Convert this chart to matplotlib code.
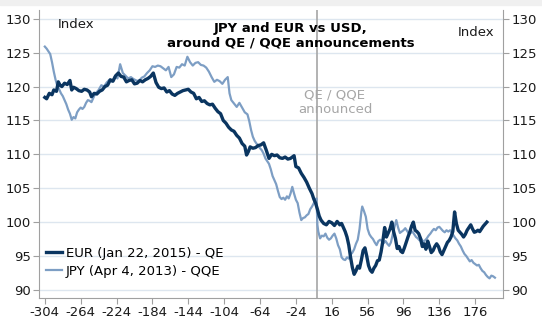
import matplotlib.pyplot as plt
from matplotlib.patches import Rectangle

plt.rcParams['axes.unicode_minus'] = False
plt.rcParams['font.family'] = 'DejaVu Sans'

# days relative to announcement, index values
eur_days = [-304, -302, -299, -296, -294, -291, -289, -287, -285, -282, -279, -276, -274, -272, -269, -266,
            -263, -260, -257, -254, -252, -249, -246, -243, -240, -237, -234, -231, -228, -225, -222, -219,
            -216, -213, -210, -207, -204, -201, -198, -195, -192, -189, -186, -183, -180, -177, -174, -171,
            -168, -165, -162, -159, -156, -153, -150, -147, -144, -141, -138, -135, -132, -129, -126, -123,
            -120, -117, -114, -111, -108, -105, -102, -99, -96, -93, -90, -87, -84, -81, -79, -77, -75, -72,
            -69, -66, -63, -60, -57, -54, -51, -48, -45, -42, -39, -36, -33, -30, -28, -26, -24, -21, -18,
            -15, -12, -9, -6, -4, -2, 0, 2, 4, 7, 10, 13, 16, 19, 22, 25, 27, 29, 31, 33, 35, 37, 39, 41, 43,
            45, 47, 49, 51, 53, 55, 57, 59, 61, 63, 65, 67, 69, 71, 73, 75, 77, 79, 81, 83, 85, 87, 89, 91,
            93, 95, 97, 99, 101, 103, 105, 107, 109, 111, 113, 115, 117, 119, 121, 123, 125, 127, 129, 131,
            133, 135, 137, 139, 141, 143, 145, 147, 149, 151, 153, 155, 157, 159, 161, 163, 165, 167, 169,
            171, 173, 175, 177, 179, 181, 183, 185, 187, 189]
eur_vals = [118.4, 118.2, 119.0, 118.8, 119.5, 119.3, 120.7, 120.2, 120.0, 120.5, 120.3, 120.9, 119.5, 119.9,
            119.7, 119.4, 119.3, 119.6, 119.5, 119.2, 118.5, 119.0, 118.9, 119.3, 119.5, 120.0, 120.2, 121.0,
            120.8, 121.6, 122.0, 121.5, 121.4, 120.7, 120.9, 121.0, 120.4, 120.5, 120.9, 120.7, 121.0, 121.2,
            121.5, 122.0, 120.6, 119.9, 119.7, 119.8, 119.2, 119.4, 118.9, 118.7, 119.0, 119.2, 119.4, 119.5,
            119.6, 119.2, 119.0, 118.2, 118.4, 117.8, 117.9, 117.5, 117.3, 117.4, 116.8, 116.3, 116.0, 115.0,
            114.6, 114.0, 113.6, 113.4, 112.8, 112.4, 111.6, 111.2, 109.9, 110.4, 111.1, 110.9, 111.0, 111.3,
            111.4, 111.7, 110.6, 109.4, 110.0, 109.8, 109.9, 109.5, 109.4, 109.6, 109.3, 109.4, 109.6, 109.8,
            108.2, 108.0, 107.2, 106.6, 105.9, 105.0, 104.2, 103.4, 102.8, 101.9, 100.9, 100.3, 99.8, 99.6,
            100.1, 99.9, 99.5, 100.1, 99.6, 99.8, 99.2, 98.6, 97.8, 96.6, 94.8, 93.3, 92.3, 92.8, 93.5, 93.2,
            94.4, 95.8, 96.2, 95.0, 93.6, 92.9, 92.6, 93.2, 93.6, 94.3, 94.4, 95.6, 97.2, 99.2, 97.8, 98.4,
            99.0, 100.0, 98.6, 97.6, 96.1, 96.4, 95.7, 95.5, 96.2, 97.0, 97.8, 98.5, 99.4, 100.0, 98.8, 98.6,
            98.3, 97.6, 96.4, 96.8, 96.0, 97.2, 96.4, 95.5, 95.8, 96.4, 96.8, 96.4, 95.6, 95.2, 95.8, 96.4, 97.0,
            97.3, 97.8, 98.6, 101.5, 99.8, 98.8, 98.5, 98.2, 97.8, 98.2, 98.8, 99.2, 99.6, 99.0, 98.5, 98.6,
            98.8, 98.6, 99.0, 99.4, 99.7, 100.0]

jpy_days = [-304, -302, -300, -298, -296, -294, -292, -290, -288, -286, -284, -282, -280, -278, -276, -274,
            -272, -270, -268, -266, -264, -262, -260, -258, -256, -254, -252, -250, -248, -246, -244, -241,
            -238, -235, -232, -229, -226, -223, -220, -217, -214, -211, -208, -205, -202, -199, -196, -193,
            -190, -187, -184, -181, -178, -175, -172, -169, -166, -163, -160, -157, -154, -151, -148, -145,
            -142, -139, -136, -133, -130, -127, -124, -121, -118, -115, -112, -109, -106, -103, -100, -98,
            -96, -93, -90, -87, -84, -81, -78, -76, -74, -72, -70, -68, -66, -64, -62, -60, -58, -56, -54,
            -52, -50, -48, -46, -44, -42, -40, -38, -36, -34, -32, -30, -28, -26, -24, -22, -20, -18, -16,
            -14, -12, -10, -8, -6, -4, -2, -1, 0, 1, 3, 5, 7, 9, 11, 13, 15, 17, 19, 21, 23, 25, 27, 29, 31,
            33, 35, 37, 39, 41, 43, 45, 47, 49, 50, 52, 54, 56, 58, 60, 62, 64, 66, 68, 70, 72, 74, 76, 78,
            80, 82, 84, 86, 88, 90, 92, 94, 96, 98, 100, 102, 104, 106, 108, 110, 112, 114, 116, 118, 120,
            122, 124, 126, 128, 130, 132, 134, 136, 138, 140, 142, 144, 146, 148, 150, 152, 154, 156, 158,
            160, 162, 164, 166, 168, 170, 172, 174, 176, 178, 180, 182, 184, 186, 188, 190, 192, 194, 196, 198]
jpy_vals = [125.9, 125.6, 125.2, 124.8, 123.6, 122.2, 121.0, 120.1, 119.6, 119.0, 118.6, 118.0, 117.4, 116.6,
            116.0, 115.1, 115.5, 115.3, 116.2, 116.6, 116.9, 116.7, 117.0, 117.6, 118.0, 117.9, 117.7, 118.3,
            118.9, 119.2, 119.5, 120.2, 120.0, 120.6, 121.0, 120.7, 121.5, 121.2, 123.3, 122.0, 121.6, 121.2,
            121.4, 121.1, 120.9, 120.8, 121.3, 121.5, 122.0, 122.4, 123.0, 122.9, 123.1, 123.0, 122.7, 122.4,
            122.9, 121.4, 121.8, 122.9, 122.8, 123.3, 123.1, 124.4, 123.6, 123.1, 123.5, 123.6, 123.2, 123.1,
            122.8, 122.2, 121.4, 120.7, 121.0, 120.8, 120.4, 121.0, 121.4, 119.0, 118.0, 117.5, 117.0, 117.6,
            116.9, 116.2, 115.9, 114.9, 113.6, 112.6, 112.0, 111.6, 111.3, 110.9, 110.6, 110.1, 109.4, 109.0,
            108.6, 107.8, 106.8, 106.2, 105.6, 104.6, 103.7, 103.4, 103.6, 103.3, 103.8, 103.5, 104.2, 105.2,
            104.2, 103.3, 102.8, 101.4, 100.3, 100.6, 100.7, 101.0, 101.2, 101.9, 102.3, 102.8, 103.3, 103.5,
            99.6, 98.6, 97.6, 98.0, 97.9, 98.3, 97.7, 97.4, 97.6, 98.0, 98.3, 97.6, 96.6, 96.0, 94.8, 94.5,
            94.4, 94.8, 94.6, 95.2, 95.5, 96.0, 96.8, 97.4, 99.0, 101.5, 102.3, 101.6, 100.8, 99.0,
            98.2, 97.8, 97.5, 97.0, 96.6, 97.2, 97.4, 97.2, 96.9, 97.2, 96.8, 96.5, 97.0, 98.2, 99.3,
            100.3, 99.2, 98.4, 98.6, 98.8, 99.1, 98.7, 98.3, 98.4, 98.6, 98.2, 97.8, 97.6, 97.3, 97.5, 97.1,
            97.3, 97.6, 98.0, 98.3, 98.7, 99.0, 98.8, 99.2, 99.3, 99.0, 98.7, 98.5, 98.8, 98.6, 98.8, 98.4,
            98.0, 97.6, 97.3, 96.8, 96.4, 95.8, 95.3, 95.0, 94.6, 94.2, 94.4, 94.0, 93.8, 93.6, 93.7, 93.2,
            92.8, 92.6, 92.2, 91.9, 91.7, 92.1, 92.0, 91.8]

x_ticks = list(range(-304, 177, 40))
y_ticks = [90, 95, 100, 105, 110, 115, 120, 125, 130]

fig = plt.figure(figsize=(5.42, 3.26), dpi=100)
fig.patches.append(Rectangle((0, 1 - 5 / 326), 1, 5 / 326, transform=fig.transFigure,
                             color='#f0f0f0', zorder=0))
ax = fig.add_axes([39 / 542, 28 / 326, 464 / 542, 288 / 326])

ax.plot(eur_days, eur_vals, color='#0a3560', lw=2.4, label='EUR (Jan 22, 2015) - QE', zorder=3)
ax.plot(jpy_days, jpy_vals, color='#7d9ec4', lw=1.6, label='JPY (Apr 4, 2013) - QQE', zorder=2)
ax.axvline(0, color='#a6a6a6', lw=1.2, zorder=1)

ax.set_xlim(-310.5, 207)
ax.set_ylim(88.8, 131.3)
ax.set_xticks(x_ticks)
ax.set_yticks(y_ticks)
ax.grid(axis='y', color='#dde6ef', lw=1)
ax.set_axisbelow(True)

for side in ['left', 'right', 'bottom']:
    ax.spines[side].set_color('#a0a0a0')
ax.spines['top'].set_visible(False)
ax.tick_params(axis='both', colors='#a0a0a0', labelcolor='#1a1a1a', labelsize=9.5, length=4,
               direction='out')
ax.tick_params(axis='y', right=True, labelright=True, pad=2)
ax.tick_params(axis='x', pad=2)

fig.text(58 / 542, 1 - 25 / 326, 'Index', fontsize=9.5, va='center', ha='left', color='#1a1a1a')
fig.text(494 / 542, 1 - 32 / 326, 'Index', fontsize=9.5, va='center', ha='right', color='#1a1a1a')
fig.text(291 / 542, 1 - 35.5 / 326, 'JPY and EUR vs USD,\naround QE / QQE announcements',
         fontsize=9.5, fontweight='bold', ha='center', va='center', linespacing=1.15)
fig.text(335 / 542, 1 - 102.5 / 326, 'QE / QQE\nannounced', fontsize=9.5, color='#a6a6a6',
         ha='center', va='center', linespacing=1.15)

ax.legend(loc='lower left', bbox_to_anchor=(46 / 542, 1 - 278 / 326), bbox_transform=fig.transFigure,
          frameon=False, fontsize=9.5, handlelength=1.2, handletextpad=0.3, labelspacing=0.4,
          borderaxespad=0, borderpad=0)

fig.savefig('out.png', dpi=100)
